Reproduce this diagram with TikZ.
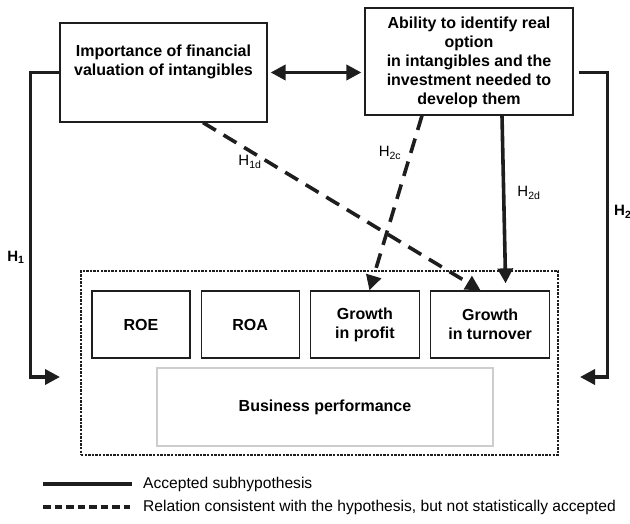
\documentclass[tikz,border=0pt]{standalone}
\usepackage{fontspec}
\setmainfont{Liberation Sans}
\usepackage{xcolor}
\usepackage{tikz}
\usetikzlibrary{arrows.meta, positioning, calc}
\definecolor{inkblack}{RGB}{30,30,30}
\definecolor{softgray}{RGB}{205,205,205}
\tikzset{
    factor/.style={rectangle, draw=inkblack, line width=1.2pt, align=center,
                   font=\fontsize{16}{19}\selectfont\bfseries},
    metric/.style={rectangle, draw=inkblack, line width=1.2pt, minimum height=67pt,
                   align=center, inner sep=0pt, font=\fontsize{16}{19}\selectfont\bfseries},
    outcome/.style={rectangle, draw=softgray, line width=1.2pt, minimum width=336pt,
                    minimum height=78pt, font=\fontsize{16}{19}\selectfont\bfseries},
    frame/.style={rectangle, draw=inkblack, line width=2.8pt, dash pattern=on 2.4pt off 1.2pt,
                  minimum width=477pt, minimum height=184pt},
    accepted/.style={draw=inkblack, line width=3.6pt, -{Triangle[length=15pt,width=15pt]}},
    consistent/.style={draw=inkblack, line width=3.6pt, dash pattern=on 15pt off 9pt,
                       -{Triangle[length=15pt,width=15pt]}},
    hlabel/.style={font=\fontsize{15}{18}\selectfont, inner sep=0pt},
    legend/.style={font=\fontsize{15.6}{18}\selectfont, anchor=west, inner sep=0pt}
}

\begin{document}
\begin{tikzpicture}[x=1pt, y=1pt, node distance=10pt]
    \useasboundingbox (0,0) rectangle (630,524);

    % explanatory factors
    \node[factor, minimum width=207pt, minimum height=99pt] (valuation) at (163.5,451.5)
        {Importance of financial\\valuation of intangibles\\[6pt]};
    \node[factor, minimum width=208pt, minimum height=107pt] (ability) at (469,462.5)
        {\\[-6pt]Ability to identify real\\option\\in intangibles and the\\investment needed to\\develop them};

    % business performance block
    \node[frame] (perf) at (319.5,161) {};
    \node[metric, minimum width=98pt] (roe) at (141,199.5) {ROE};
    \node[metric, minimum width=98pt, right=of roe] (roa) {ROA};
    \node[metric, minimum width=109pt, right=of roa] (profit) {Growth\\in profit};
    \node[metric, minimum width=119pt, right=of profit] (turnover) {Growth\\in turnover};
    \node[outcome] (business) at (325,117) {Business performance};

    % arrow ends beside the frame
    \coordinate (h1end) at (60,147);
    \coordinate (h2end) at (580,147);

    % H1 and H2
    \draw[accepted] (valuation.west) -- ++(-29pt,0) |- (h1end);
    \draw[accepted] ([xshift=5pt]ability.east |- valuation.east) -- ++(29pt,0) |- (h2end);
    \node[hlabel, font=\fontsize{15}{18}\selectfont\bfseries] (h1) at (16,267) {H\textsubscript{1}};
    \node[hlabel, font=\fontsize{15}{18}\selectfont\bfseries, anchor=west] (h2) at (614,312) {H\textsubscript{2}};

    % link between factors
    \draw[accepted, {Triangle[length=15pt,width=15pt]}-{Triangle[length=15pt,width=15pt]}]
        ([xshift=3pt]valuation.east) -- ([xshift=-3pt]ability.west |- valuation.east);

    % subhypotheses
    \draw[accepted] ([xshift=33pt]ability.south) -- ([xshift=15.5pt,yshift=7pt]turnover.north);
    \draw[consistent] ([xshift=-47pt]ability.south) -- ([xshift=4.5pt]profit.north);
    \draw[consistent] ([xshift=39.5pt]valuation.south) -- ([xshift=-9.5pt]turnover.north);
    \node[hlabel] (h1d) at (250,362) {H\textsubscript{1d}};
    \node[hlabel] (h2c) at (390,371) {H\textsubscript{2c}};
    \node[hlabel] (h2d) at (529,331) {H\textsubscript{2d}};

    % legend
    \node[legend] (acc) at (143,40) {Accepted subhypothesis};
    \node[legend] (con) at (143,17) {Relation consistent with the hypothesis, but not statistically accepted};
    \draw[draw=inkblack, line width=3.6pt] ([xshift=-100pt]acc.west) -- ([xshift=-11pt]acc.west);
    \draw[draw=inkblack, line width=3.6pt, dash pattern=on 7.5pt off 4pt]
        ([xshift=-100pt]con.west) -- ([xshift=-13pt]con.west);
\end{tikzpicture}
\end{document}
